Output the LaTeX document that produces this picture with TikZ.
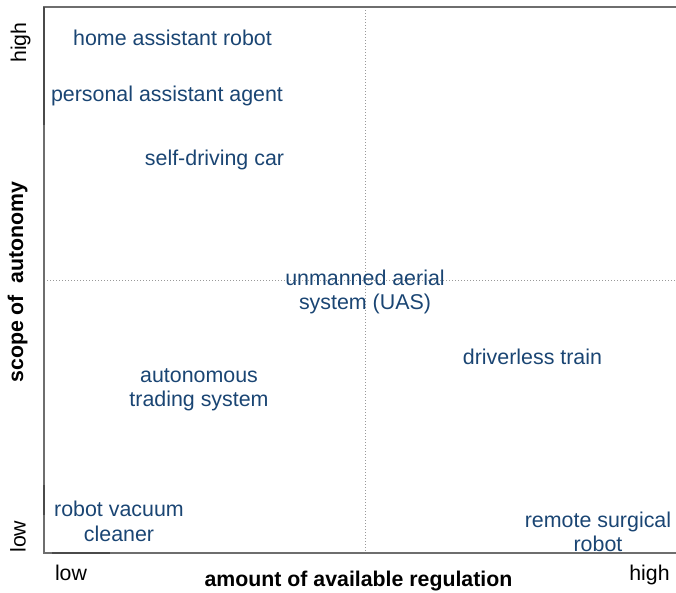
\documentclass[tikz,border=0pt]{standalone}
\usepackage{fontspec}
\setmainfont{Liberation Sans}
\definecolor{lbl}{HTML}{1A4573}
\definecolor{framegray}{HTML}{6E6E6E}
\definecolor{framedark}{HTML}{4A4A4A}
\begin{document}
\begin{tikzpicture}[x=1pt,y=-1pt,
  lab/.style={font=\fontsize{21.4}{24.3}\selectfont, text=lbl, align=center, inner sep=0pt, anchor=base},
  tick/.style={font=\fontsize{21.3}{24}\selectfont, text=black, inner sep=0pt, anchor=base},
  axlab/.style={font=\bfseries\fontsize{21.3}{24}\selectfont, text=black, inner sep=0pt, anchor=base},
  framel/.style={draw=framegray, line width=1.6pt},
  framed/.style={draw=framedark, line width=2.4pt},
  quad/.style={draw=gray!80, dotted, line width=1pt}]
\useasboundingbox (0,0) rectangle (676,592);
% frame
\coordinate (tl) at (44,7);
\coordinate (tr) at (680,7);
\coordinate (bl) at (44,553);
\coordinate (br) at (680,553);
\coordinate (l1) at (44,125);
\coordinate (l2) at (44,485);
\coordinate (l3) at (44,515);
\coordinate (b1) at (52,553);
\coordinate (b2) at (110,553);
% dotted quadrant lines
\coordinate (vt) at (365,7);
\coordinate (vb) at (365,553);
\coordinate (hl) at (44,280);
\coordinate (hr) at (680,280);
\draw[quad] (vt) -- (vb);
\draw[quad] (hl) -- (hr);
\draw[framel] (tr) -- (tl) -- (bl) -- (br);
\draw[framed] (tl) -- (l1);
\draw[framed] (l2) -- (l3);
\draw[framed] (b1) -- (b2);
% labels (multi-line: base anchor is at the last line)
\node[lab] (home) at (172.5,45.5) {home assistant robot};
\node[lab] (pers) at (167,101.5) {personal assistant agent};
\node[lab] (car) at (214.5,165) {self-driving car};
\node[lab] (uas) at (365,309.3) {unmanned aerial\\system (UAS)};
\node[lab] (train) at (532.5,364) {driverless train};
\node[lab] (trade) at (199,406.3) {autonomous\\trading system};
\node[lab] (vac) at (119,541) {robot vacuum\\cleaner};
\node[lab] (surg) at (598,551.3) {remote surgical\\robot};
% axis ticks
\node[tick] (xlow) at (71,580) {low};
\node[tick] (xhigh) at (649.5,580) {high};
\node[tick, rotate=90] (yhigh) at (26,42.5) {high};
\node[tick, rotate=90] (ylow) at (25.5,536.7) {low};
% axis titles
\node[axlab] (xt) at (358.5,586.7) {amount of available regulation};
\node[axlab, rotate=90] (yt) at (23,282) {scope of\ \ autonomy};
\end{tikzpicture}
\end{document}
